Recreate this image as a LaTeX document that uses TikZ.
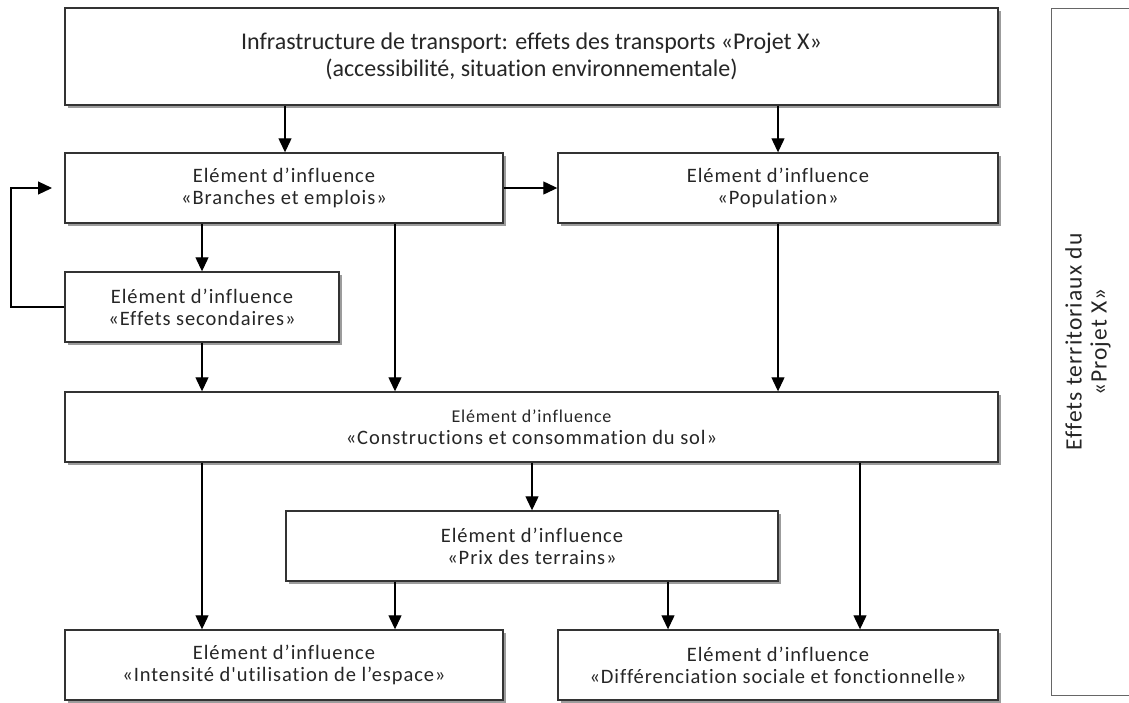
\documentclass[tikz,border=0pt]{standalone}
\usepackage{fontspec}
\setmainfont{Carlito}[Ligatures={TeXOff,NoCommon}]
\newfontfamily\boxfont{Carlito}[Ligatures={TeXOff,NoCommon}, LetterSpace=4.5]
\usetikzlibrary{arrows.meta,shadows}
\tikzset{
  box/.style={draw=black!80, line width=1.4pt, fill=white, rectangle, inner sep=0pt,
    align=center, text=black!85, font=\boxfont\fontsize{20.5}{22}\selectfont,
    drop shadow={shadow xshift=3pt, shadow yshift=-3pt, fill=black!55, opacity=0.7}},
  arr/.style={line width=1.2pt, draw=black, -{Triangle[length=14pt,width=13pt]}},
  sidebox/.style={draw=black!60, line width=1pt, rectangle, inner sep=0pt},
}
\begin{document}
\begin{tikzpicture}[x=1pt,y=-1pt]
\useasboundingbox (0,0) rectangle (1129,702);
\fill[white] (0,0) rectangle (1129,702);

% column coordinates
\coordinate (c202) at (202,0);
\coordinate (c285) at (285,0);
\coordinate (c395) at (395,0);
\coordinate (c532) at (532,0);
\coordinate (c668) at (668,0);
\coordinate (c778) at (778,0);
\coordinate (c860) at (860,0);
\coordinate (fbx) at (11,0);
\coordinate (fbtip) at (52,188);

% boxes
\node[box, minimum width=933pt, minimum height=97pt, font=\rmfamily\fontsize{24}{27}\selectfont] (top) at (531.5,56.5)
  {Infrastructure de transport: effets des transports «Projet X»\\(accessibilité, situation environnementale)};
\node[box, minimum width=438pt, minimum height=70pt] (bra) at (284,188)
  {Elément d’influence\\«Branches et emplois»};
\node[box, minimum width=440pt, minimum height=70pt] (pop) at (778,188)
  {Elément d’influence\\«Population»};
\node[box, minimum width=274pt, minimum height=70pt] (eff) at (202,307)
  {Elément d’influence\\«Effets secondaires»};
\node[box, minimum width=933pt, minimum height=70pt] (con) at (531.5,427)
  {{\fontsize{18}{22}\selectfont Elément d’influence}\\«Constructions et consommation du sol»};
\node[box, minimum width=492pt, minimum height=70pt] (prix) at (532,546)
  {Elément d’influence\\«Prix des terrains»};
\node[box, minimum width=438pt, minimum height=70pt] (int) at (284,665)
  {Elément d’influence\\«Intensité d'utilisation de l’espace»};
\node[box, minimum width=440pt, minimum height=70pt] (dif) at (778,665)
  {Elément d’influence\\«Différenciation sociale et fonctionnelle»};

% side box
\begin{scope}
\clip (0,0) rectangle (1129,702);
\node[sidebox, minimum width=120pt, minimum height=687pt, anchor=north west] (sidefr) at (1051,8) {};
\end{scope}
\node[rotate=90, align=center, text=black!85, font=\boxfont\fontsize{23.5}{25}\selectfont] (side) at (1088,342)
  {Effets territoriaux du\\«Projet X»};

% connectors
\draw[arr] (top.south -| c285) -- (bra.north -| c285);
\draw[arr] (top.south -| c778) -- (pop.north -| c778);
\draw[arr] (bra.east) -- (pop.west);
\draw[arr] (bra.south -| c202) -- (eff.north -| c202);
\draw[arr] (eff.west) -- (eff.west -| fbx) |- (fbtip);
\draw[arr] (eff.south -| c202) -- (con.north -| c202);
\draw[arr] (bra.south -| c395) -- (con.north -| c395);
\draw[arr] (pop.south -| c778) -- (con.north -| c778);
\draw[arr] (con.south -| c532) -- (prix.north -| c532);
\draw[arr] (con.south -| c202) -- (int.north -| c202);
\draw[arr] (prix.south -| c395) -- (int.north -| c395);
\draw[arr] (prix.south -| c668) -- (dif.north -| c668);
\draw[arr] (con.south -| c860) -- (dif.north -| c860);
\end{tikzpicture}
\end{document}
